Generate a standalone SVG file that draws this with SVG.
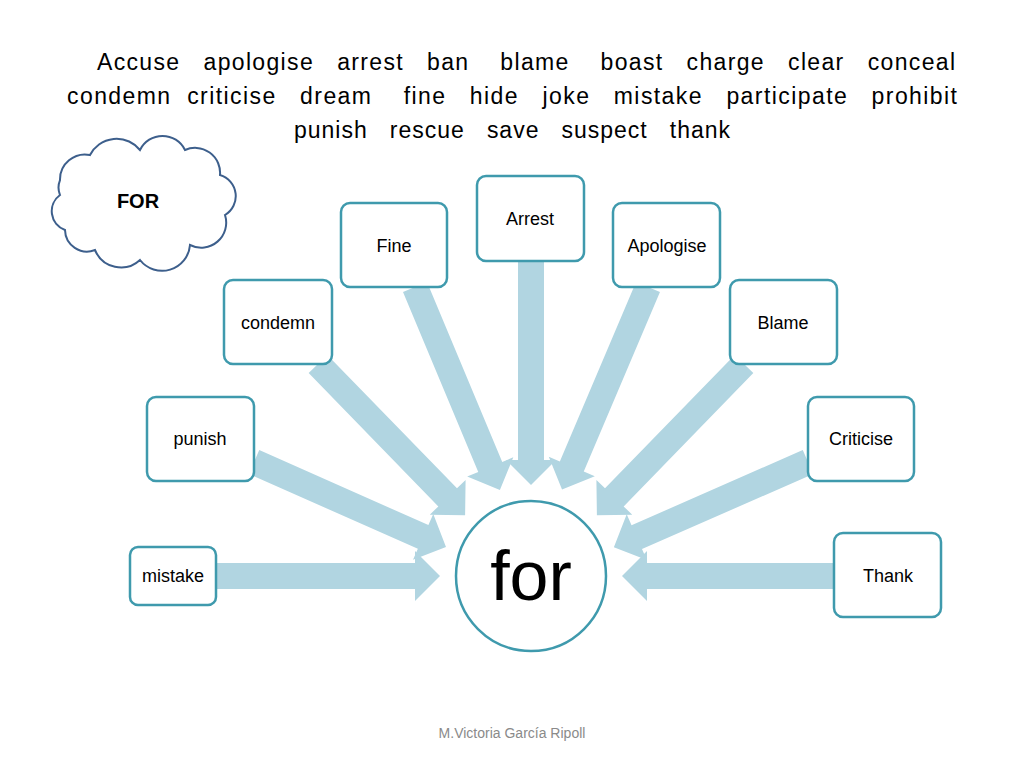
<svg xmlns="http://www.w3.org/2000/svg" width="1024" height="768" viewBox="0 0 1024 768">
<style>
.t{font-family:"Liberation Sans",Arial,sans-serif;fill:#000}
.title{font-size:23px;white-space:pre}
.lbl{font-size:18px;text-anchor:middle}
.box{fill:#fff;stroke:#3f9aad;stroke-width:2.5}
.arr{fill:#b1d5e1}
</style>
<rect width="1024" height="768" fill="#fff"/>
<g class="t title">
<text xml:space="preserve" x="97" y="70" textLength="858" lengthAdjust="spacing">Accuse   apologise   arrest   ban    blame    boast   charge   clear   conceal</text>
<text xml:space="preserve" x="67" y="104" textLength="890" lengthAdjust="spacing">condemn  criticise   dream    fine   hide   joke   mistake   participate   prohibit</text>
<text xml:space="preserve" x="294" y="138" textLength="436" lengthAdjust="spacing">punish   rescue   save   suspect   thank</text>
</g>
<g id="cloud">
<path d="M60,180 a25,25 0 0 1 30,-25 a30,30 0 0 1 50,-5 a25,25 0 0 1 45,0 a25,25 0 0 1 35,25 a22,22 0 0 1 5,40 a25,25 0 0 1 -35,30 a28,28 0 0 1 -50,15 a28,28 0 0 1 -45,-10 a22,22 0 0 1 -30,-20 a20,20 0 0 1 -5,-35 a20,20 0 0 1 0,-15 z" fill="#fff" stroke="#3d5f8c" stroke-width="2"/>
<text class="t" x="138" y="208" font-size="20" font-weight="bold" text-anchor="middle">FOR</text>
</g>
<g id="connectors">
<g class="arr">
<path d="M0,-13 L199,-13 L199,-25 L224,0 L199,25 L199,13 L0,13 Z" transform="translate(216,576)"/>
<path d="M0,-13 L187,-13 L187,-25 L212,0 L187,25 L187,13 L0,13 Z" transform="translate(834,576) rotate(180)"/>
<path d="M0,-13 L185,-13 L185,-25 L210,0 L185,25 L185,13 L0,13 Z" transform="translate(254,462) rotate(23.9)"/>
<path d="M0,-13 L186,-13 L186,-25 L211,0 L186,25 L186,13 L0,13 Z" transform="translate(318,364) rotate(45.8)"/>
<path d="M0,-13 L195,-13 L195,-25 L220,0 L195,25 L195,13 L0,13 Z" transform="translate(415,287) rotate(67.3)"/>
<path d="M0,-13 L199,-13 L199,-25 L224,0 L199,25 L199,13 L0,13 Z" transform="translate(531,261) rotate(90)"/>
<path d="M0,-13 L195,-13 L195,-25 L220,0 L195,25 L195,13 L0,13 Z" transform="translate(648,287) rotate(113)"/>
<path d="M0,-13 L186,-13 L186,-25 L211,0 L186,25 L186,13 L0,13 Z" transform="translate(744,364) rotate(134.2)"/>
<path d="M0,-13 L187,-13 L187,-25 L212,0 L187,25 L187,13 L0,13 Z" transform="translate(808,462) rotate(156.3)"/>
</g>
</g>
<g id="center"><circle cx="531" cy="576" r="75" fill="#fff" stroke="#3f9aad" stroke-width="2.5"/><text class="t" x="531" y="600" font-size="70" text-anchor="middle">for</text></g>
<g id="mistake"><rect class="box" x="130" y="547" width="86" height="58" rx="8"/><text class="t lbl" x="173" y="582">mistake</text></g>
<g id="punish"><rect class="box" x="147" y="397" width="107" height="84" rx="9"/><text class="t lbl" x="200" y="445">punish</text></g>
<g id="condemn"><rect class="box" x="224" y="280" width="108" height="84" rx="9"/><text class="t lbl" x="278" y="329">condemn</text></g>
<g id="fine"><rect class="box" x="341" y="203" width="106" height="84" rx="9"/><text class="t lbl" x="394" y="252">Fine</text></g>
<g id="arrest"><rect class="box" x="477" y="176" width="107" height="85" rx="9"/><text class="t lbl" x="530" y="225">Arrest</text></g>
<g id="apologise"><rect class="box" x="613" y="203" width="107" height="84" rx="9"/><text class="t lbl" x="667" y="252">Apologise</text></g>
<g id="blame"><rect class="box" x="730" y="280" width="107" height="84" rx="9"/><text class="t lbl" x="783" y="329">Blame</text></g>
<g id="criticise"><rect class="box" x="808" y="397" width="106" height="84" rx="9"/><text class="t lbl" x="861" y="445">Criticise</text></g>
<g id="thank"><rect class="box" x="834" y="533" width="107" height="84" rx="9"/><text class="t lbl" x="888" y="582">Thank</text></g>
<text class="t" x="512" y="738" font-size="14" style="fill:#8a8a8a" text-anchor="middle">M.Victoria García Ripoll</text>
</svg>
